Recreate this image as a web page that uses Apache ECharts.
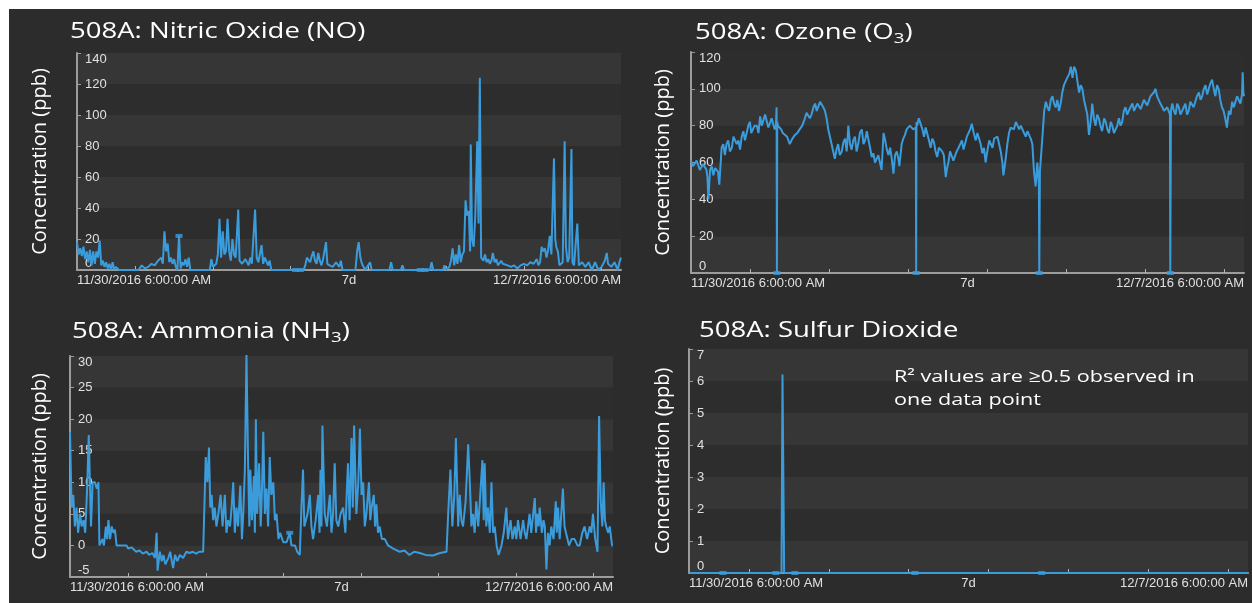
<!DOCTYPE html>
<html>
<head>
<meta charset="utf-8">
<title>508A sensor panels</title>
<script src="https://cdn.jsdelivr.net/npm/echarts@6/dist/echarts.min.js"></script>
<style>
html, body { margin: 0; padding: 0; background: #ffffff; }
#chart { width: 1252px; height: 603px; }
</style>
</head>
<body>
<div id="chart"></div>
<script>
// x values are hours since 11/30/2016 6:00 AM (window is 7 days)
const xTickHours = [18, 42, 66, 90, 114, 138, 162]
const xLabelHours = [0, 84, 168]
const xLabelTexts = ['11/30/2016 6:00:00 AM', '7d', '12/7/2016 6:00:00 AM']

// Nitric oxide (ppb)
const noData = [
  [0, 18], [0.5, 10], [1, 14], [1.5, 9], [2, 15], [2.5, 7], [3, 12], [3.5, 5], [4, 13], [4.5, 3], [5, 12], [5.5, 4],
  [6, 12], [6.5, 8], [7, 19], [7.5, 3], [8, 6], [8.5, 2], [9, 5], [9.5, 1], [10, 4], [10.5, 0], [11, 5], [11.5, 0],
  [12, 2], [13, 0], [19, 0], [20, 3], [21, 1], [22, 2], [23, 4], [24, 3], [25, 6], [26, 8], [26.5, 4], [27, 25],
  [27.5, 12], [28, 17], [28.5, 5], [29, 8], [29.5, 4], [30, 7], [30.5, 2], [31, 0], [31.5, 22], [32, 1], [32.5, 5],
  [33, 3], [33.5, 7], [34, 2], [34.5, 8], [35, 0], [41, 0], [41.5, 7], [42, 2], [43, 4], [43.5, 10], [44, 33],
  [44.5, 8], [45, 25], [45.5, 10], [46, 12], [46.5, 33], [47, 12], [47.5, 6], [48, 20], [48.5, 10], [49, 8],
  [49.8, 39], [50.2, 6], [51, 4], [52, 7], [53, 3], [53.5, 8], [54, 4], [55, 39], [55.5, 8], [56, 5], [57, 16],
  [57.5, 4], [58, 8], [59, 3], [59.5, 6], [60, 0], [70, 0], [70.5, 3], [71, 8], [72, 5], [72.5, 9], [73, 12],
  [73.5, 6], [74, 4], [74.5, 11], [75, 6], [75.5, 3], [76, 7], [76.9, 18], [77.3, 4], [78, 3], [79, 2], [80, 5],
  [81, 2], [81.5, 6], [82, 0], [86, 0], [86.5, 12], [87, 18], [87.5, 8], [88, 4], [89, 0], [90.5, 5], [91, 0],
  [96.5, 0], [97, 5], [97.5, 0], [100, 0], [100.5, 3], [101, 0], [109, 0], [109.5, 5], [110, 0], [113, 0],
  [113.5, 3], [114, 0], [115, 2], [115.5, 6], [116, 14], [116.5, 3], [117, 10], [117.5, 4], [118, 16], [118.5, 5],
  [119, 10], [119.5, 12], [120, 45], [120.5, 35], [121, 38], [121.4, 12], [121.6, 81], [122, 20], [122.5, 15],
  [123, 35], [123.6, 83], [124, 30], [124.4, 124], [124.8, 8], [125.5, 6], [126, 10], [126.5, 5], [127, 7],
  [127.5, 4], [128, 6], [128.4, 11], [129, 5], [129.5, 7], [130, 3], [131, 6], [131.5, 4], [132, 5], [133, 3],
  [134, 2], [135, 3], [136, 1], [137, 3], [138, 4], [139, 3], [140, 5], [141, 4], [142, 7], [142.5, 3], [143, 5],
  [143.5, 15], [144, 12], [144.5, 14], [145, 8], [145.5, 13], [146, 22], [146.5, 10], [147.3, 72], [147.7, 20],
  [148, 15], [148.5, 12], [149, 3], [150, 5], [150.6, 83], [151, 15], [151.5, 5], [152, 8], [152.7, 78], [153, 5],
  [153.5, 3], [154.5, 30], [155, 3], [156, 5], [157, 2], [158, 5], [159, 0], [160, 5], [161, 0], [162, 2], [163, 6],
  [163.6, 11], [164, 4], [165, 2], [166, 5], [167, 0], [167.5, 5], [168, 8]
]
const noMarks = [[31.5, 22], [67.5, 0], [69, 0], [106, 0], [107.5, 0]]

// Ozone (ppb)
const o3Data = [
  [0, 61], [0.6, 58], [1.2, 57], [1.7, 61], [2.2, 60], [2.7, 56], [3.2, 55], [3.7, 59], [4.3, 60], [4.7, 56], [5, 52],
  [5.3, 40], [5.6, 50], [5.8, 56], [6.3, 58], [6.8, 53], [7.3, 57], [7.8, 58], [8.2, 55], [8.6, 48], [9.3, 68],
  [9.8, 70], [10.3, 64], [10.8, 70], [11.3, 72], [11.8, 66], [12.4, 68], [12.9, 74], [13.4, 75], [13.9, 70],
  [14.4, 72], [14.9, 67], [15.4, 74], [15.9, 77], [16.4, 72], [16.9, 73], [17.4, 80], [17.9, 82], [18.3, 76],
  [18.7, 75], [19.3, 80], [20, 80], [20.5, 76], [21, 85], [21.5, 80], [22, 80], [22.5, 86], [23, 85], [23.5, 79],
  [24, 79], [24.5, 84], [25, 83], [25.4, 78], [25.8, 80], [26, 90], [26.1, 0], [26.2, 82], [26.4, 80], [26.9, 80],
  [27.4, 78], [27.9, 76], [28.4, 75], [29.2, 74], [30, 70], [30.8, 73], [31.6, 75], [32.3, 76], [33, 78], [33.8, 80],
  [34.6, 84], [35.1, 87], [35.6, 88], [36.1, 84], [36.6, 86], [37.2, 90], [37.7, 92], [38.2, 88], [38.7, 89],
  [39.2, 93], [39.7, 93], [40.2, 90], [40.7, 88], [41.2, 84], [41.7, 78], [42.2, 74], [42.7, 70], [43.2, 66],
  [43.7, 62], [44.2, 67], [44.7, 70], [45.2, 64], [45.8, 66], [46.3, 71], [46.8, 73], [47.3, 66], [47.8, 80],
  [48.3, 70], [48.8, 67], [49.3, 72], [49.8, 74], [50.3, 66], [50.8, 70], [51.3, 76], [51.9, 78], [52.4, 70],
  [52.9, 72], [53.4, 77], [53.9, 76], [54.4, 68], [54.9, 63], [55.4, 65], [55.9, 60], [56.4, 62], [56.9, 64],
  [57.4, 60], [57.9, 56], [58.5, 76], [59, 72], [59.5, 67], [60, 64], [60.5, 68], [61, 62], [61.5, 54], [62, 64],
  [62.5, 66], [63, 62], [63.3, 58], [64, 70], [64.5, 73], [65, 75], [65.5, 78], [66, 77], [66.5, 80], [67, 81],
  [67.5, 78], [68.3, 79], [68.4, 0], [68.5, 82], [68.7, 80], [69.2, 84], [69.8, 83], [70.3, 78], [70.8, 74],
  [71.3, 79], [71.8, 80], [72.3, 72], [72.8, 68], [73.3, 73], [73.8, 71], [74.3, 66], [74.8, 63], [75.3, 68],
  [75.8, 67], [76.3, 66], [76.8, 64], [77.1, 58], [77.4, 52], [77.8, 57], [78.2, 60], [78.7, 66], [79.2, 65],
  [79.7, 61], [80.2, 62], [80.7, 66], [81.3, 68], [81.8, 70], [82.3, 72], [82.8, 67], [83.3, 68], [83.8, 74],
  [84.3, 76], [84.8, 78], [85.3, 81], [85.9, 76], [86.5, 72], [87, 76], [87.5, 75], [88, 70], [88.5, 65], [89, 68],
  [89.5, 60], [90, 66], [90.6, 72], [91.1, 70], [91.6, 68], [92.1, 73], [92.6, 72], [93.1, 74], [93.6, 70],
  [94.1, 66], [94.6, 60], [94.9, 53], [95.3, 58], [95.6, 62], [96.1, 70], [96.6, 76], [97.1, 79], [97.6, 80],
  [98.1, 78], [98.7, 82], [99.2, 80], [99.7, 78], [100.2, 80], [100.7, 80], [101.2, 76], [101.7, 74], [102.2, 77],
  [102.7, 76], [103.2, 73], [103.7, 70], [104.2, 55], [104.7, 47], [105.2, 60], [105.7, 48], [105.8, 0], [106, 55],
  [106.2, 60], [106.8, 75], [107.3, 88], [107.8, 93], [108.3, 90], [108.8, 88], [109.3, 94], [109.8, 96],
  [110.3, 92], [110.8, 90], [111.3, 94], [111.8, 88], [112.3, 92], [112.8, 98], [113.3, 102], [113.8, 104],
  [114.3, 106], [114.9, 108], [115.4, 112], [115.9, 106], [116.4, 112], [116.9, 110], [117.4, 104], [117.9, 98],
  [118.4, 102], [118.9, 100], [119.4, 94], [119.9, 90], [120.4, 86], [120.9, 75], [121.4, 82], [121.9, 92],
  [122.4, 84], [122.9, 80], [123.4, 86], [123.9, 84], [124.4, 80], [124.9, 77], [125.5, 84], [126, 82], [126.5, 78],
  [127, 76], [127.5, 82], [128, 80], [128.5, 76], [129, 78], [129.5, 80], [130, 84], [130.5, 80], [131, 82],
  [131.5, 88], [132, 90], [132.5, 86], [133, 86], [133.5, 90], [134.1, 92], [134.6, 88], [135.1, 88], [135.6, 92],
  [136.1, 93], [136.6, 89], [137.1, 90], [137.6, 94], [138.1, 95], [138.6, 91], [139.1, 92], [139.6, 96],
  [140.1, 97], [140.6, 98], [141.1, 100], [141.6, 96], [142.1, 94], [142.6, 92], [143.2, 90], [143.7, 88],
  [144.2, 87], [144.7, 90], [145.2, 89], [145.5, 86], [145.6, 0], [145.8, 88], [146.2, 92], [146.7, 88],
  [147.2, 86], [147.7, 92], [148.2, 90], [148.7, 86], [149.2, 86], [149.7, 90], [150.2, 92], [150.7, 86],
  [151.2, 88], [151.7, 93], [152.2, 94], [152.7, 90], [153.2, 90], [153.7, 96], [154.3, 98], [154.8, 94],
  [155.3, 96], [155.8, 100], [156.3, 102], [156.8, 97], [157.3, 98], [157.8, 103], [158.3, 105], [158.8, 100],
  [159.3, 96], [159.8, 102], [160.3, 100], [160.8, 94], [161.3, 90], [161.8, 88], [162.3, 84], [162.8, 79],
  [163.4, 88], [163.9, 86], [164.4, 93], [164.9, 90], [165.4, 90], [165.9, 96], [166.4, 95], [166.9, 92],
  [167.4, 97], [167.6, 109], [167.8, 98], [168, 96]
]
const o3Marks = [[26.1, 0], [68.4, 0], [105.8, 0], [145.6, 0]]

// Ammonia (ppb)
const nh3Data = [
  [0, 18], [0.5, 6], [1, 8], [1.5, 3], [2, 6], [2.5, 2], [3.1, 5], [3.6, 3], [4.2, 4], [4.7, 2], [5.3, 9], [5.8, 17.5],
  [6.5, 3], [7, 10], [7.7, 10], [8.3, 9], [8.8, 10], [9.1, 0], [10, 1], [10.5, 0], [11.1, 3], [11.5, 1], [11.9, 4],
  [12.4, 1], [12.9, 3], [13.4, 2], [13.9, 2.5], [14.4, 0], [17.5, 0], [18, -0.5], [19, -0.3], [19.6, -0.5],
  [20.5, -1], [21.5, -0.8], [22.5, -1.3], [23.7, -1], [24.5, -1.5], [25.5, -1.2], [26.3, -2], [26.8, 2], [27.1, -4],
  [27.8, -1], [28.4, -2.5], [28.9, -1.5], [29.5, -3], [30.4, -2], [31, -1], [31.5, -2.5], [31.9, -3.6], [32.5, -1.5],
  [33.2, -2.5], [34, -1.5], [35, -2], [36, -1], [37, -1.2], [38, -1], [39, -1.3], [40, -1], [41.2, -1], [42, 14],
  [42.5, 10], [43, 15.5], [43.4, 6], [43.8, 8], [44.3, 4], [44.8, 6], [45.3, 3], [45.9, 5], [46.6, 8], [47.2, 3],
  [47.9, 8], [48.4, 2], [48.9, 4], [49.5, 3], [50, 6], [50.5, 10], [51, 2], [51.5, 6], [52, 3], [52.7, 9.5],
  [53.2, 1], [53.6, 5], [54.1, 12], [54.6, 30.5], [55.1, 13], [55.5, 3], [55.8, 12], [56.3, 4], [56.9, 11],
  [57.2, 2], [57.5, 20], [57.9, 5], [58.5, 13], [59, 3], [59.4, 9], [59.8, 18], [60.3, 5], [60.8, 9], [61.3, 3],
  [61.8, 14], [62.3, 8], [62.9, 10], [63.4, 4], [63.9, 5], [64.5, 1], [65, 2], [66, 0.5], [67, 0.5], [68, 2],
  [68.5, 0], [69.6, 0], [70.3, -1], [71.1, -1.5], [71.6, 6], [72.1, 12], [72.5, 3], [72.9, 3], [73.5, 5], [74.2, 8],
  [74.7, 3], [75.2, 1], [76, 4], [76.8, 8], [77.2, 2], [77.5, 12], [77.8, 3], [78.1, 19], [78.8, 5], [79.5, 3],
  [80, 6], [80.4, 8], [80.9, 2], [81.4, 5], [81.9, 13], [82.4, 4], [83, 3], [83.7, 5], [84.5, 6], [85.2, 2],
  [85.6, 8], [86, 13], [86.5, 4], [87.1, 17], [87.5, 6], [87.9, 19], [88.6, 5], [89.2, 10], [89.7, 18.5],
  [90.2, 8], [90.7, 10], [91.2, 3], [91.7, 5], [92.5, 10], [92.9, 4], [93.3, 6], [94, 8], [94.4, 3], [94.8, 6.5],
  [95.3, 2], [95.8, 3], [96.5, 1], [97.4, 1], [98.4, 0], [100, -0.5], [102, -1], [103.5, -0.8], [105, -1.5],
  [106.5, -1], [108.2, -1.2], [110, -1.5], [112.3, -1.6], [114.5, -1.2], [116.5, -1], [117, 5], [117.7, 12],
  [118.3, 3], [118.9, 8], [119.4, 17], [120.1, 3], [120.6, 8], [121.1, 4], [121.6, 3], [122.4, 7], [123.2, 16],
  [123.7, 10], [124.2, 3], [124.7, 5], [125.2, 2], [125.7, 7], [126.3, 3], [126.8, 7], [127.6, 13.5], [128, 4],
  [128.3, 13], [128.8, 3], [129.3, 6], [129.9, 2], [130.4, 10], [130.9, 2], [131.4, 3], [132, 0], [132.6, -1.5],
  [133.5, 0], [134.2, 2], [135, 6], [135.5, 1], [136.3, 4], [136.9, 1], [137.6, 3], [138.1, 1], [138.6, 4],
  [139.4, 1], [140.2, 4], [140.7, 2], [141.2, 1], [142.2, 5], [142.7, 2], [143.3, 2], [143.8, 7.5], [144.2, 2],
  [144.5, 5], [145, 3], [145.3, 6], [146, 2], [146.5, 4], [146.9, 3], [147.4, -3.8], [147.9, 2], [148.4, 0],
  [148.9, 3], [149.6, 1], [150.3, 7], [150.6, 2], [151, 6], [151.5, 1], [152, 5], [152.5, 9], [153, 3], [153.6, 3],
  [154.4, 0], [155.2, 1], [156.1, 1], [157, 0], [157.7, 0], [158.5, 2], [159.2, 3], [160, 1], [160.8, 3], [161.3, 2],
  [161.8, 5], [162.5, 1], [163.2, -1], [163.7, 20.5], [164.2, 7], [164.7, 3], [165.1, 10], [165.5, 4], [165.9, 3],
  [166.5, 2], [167, 3], [167.7, 0], [168, 0]
]
const nh3Marks = [[68, 2]]

// Sulfur dioxide (ppb)
const so2Data = [[0, 0], [10.2, 0], [26.1, 0], [27.8, 0], [28.1, 6.2], [28.6, 0], [31.8, 0], [67.9, 0], [106, 0], [168, 0]]
const so2Marks = [[10.2, 0], [26.1, 0], [31.8, 0], [67.9, 0], [106, 0]]

const lineColor = '#3b9cdc'
const axisColor = '#9c9c9c'
const labelColor = '#e0e0e0'

const panels = [
  { left: 77, top: 53, width: 544, height: 217, min: 0, max: 140, step: 20, gap: 27, data: noData, marks: noMarks },
  { left: 691, top: 52, width: 553, height: 221, min: 0, max: 120, step: 20, gap: 18, data: o3Data, marks: o3Marks },
  { left: 70, top: 356, width: 543, height: 221, min: -5, max: 30, step: 5, gap: 20, data: nh3Data, marks: nh3Marks },
  { left: 689, top: 349, width: 559, height: 224, min: 0, max: 7, step: 1, gap: 16, data: so2Data, marks: so2Marks }
]

const chart = echarts.init(document.getElementById('chart'))

const grid = panels.map(p => ({ left: p.left, top: p.top, width: p.width, height: p.height }))

const xAxis = panels.map((p, i) => ({
  type: 'value',
  gridIndex: i,
  min: 0,
  max: 168,
  axisLine: { onZero: false, lineStyle: { color: axisColor, width: 2 } },
  axisTick: { show: true, inside: true, length: 4, customValues: xTickHours, lineStyle: { color: '#b5b5b5' } },
  axisLabel: {
    customValues: xLabelHours,
    formatter: v => xLabelTexts[xLabelHours.indexOf(v)],
    color: labelColor,
    fontFamily: 'Liberation Sans',
    fontSize: 13,
    margin: 4,
    alignMinLabel: 'left',
    alignMaxLabel: 'right'
  },
  splitLine: { show: false }
}))

const yAxis = panels.map((p, i) => ({
  type: 'value',
  gridIndex: i,
  min: p.min,
  max: p.max,
  interval: p.step,
  name: 'Concentration (ppb)',
  nameLocation: 'middle',
  nameRotate: 90,
  nameGap: p.gap,
  nameTextStyle: { color: '#ffffff', fontFamily: 'Open Sans', fontSize: 20 },
  axisLine: { show: true, lineStyle: { color: axisColor, width: 2 } },
  axisTick: { show: true, inside: true, length: 4, lineStyle: { color: axisColor } },
  axisLabel: {
    inside: true,
    margin: 8,
    color: labelColor,
    fontFamily: 'Liberation Sans',
    fontSize: 13,
    verticalAlignMinLabel: 'bottom',
    verticalAlignMaxLabel: 'top'
  },
  splitLine: { show: false },
  splitArea: { show: true, areaStyle: { color: ['#363636', '#2d2d2d'] } }
}))

const series = []
panels.forEach((p, i) => {
  series.push({
    type: 'line',
    xAxisIndex: i,
    yAxisIndex: i,
    data: p.data,
    showSymbol: false,
    symbol: 'none',
    lineStyle: { color: lineColor, width: 2 },
    itemStyle: { color: lineColor }
  })
  series.push({
    type: 'scatter',
    xAxisIndex: i,
    yAxisIndex: i,
    data: p.marks,
    symbol: 'rect',
    symbolSize: [7, 4],
    itemStyle: { color: lineColor }
  })
})

const subStyle = { fontFamily: 'Open Sans', fontSize: 15, verticalAlign: 'bottom', lineHeight: 15 }

function titleText (x, y, text) {
  return {
    type: 'text',
    x: x,
    y: y,
    z: 100,
    scaleX: 1.25,
    style: {
      text: text,
      fill: '#ffffff',
      fontFamily: 'Open Sans',
      fontSize: 22,
      lineHeight: 26,
      verticalAlign: 'middle',
      rich: {
        sub: subStyle
      }
    }
  }
}

chart.setOption({
  animation: false,
  backgroundColor: '#2c2c2c',
  grid: grid,
  xAxis: xAxis,
  yAxis: yAxis,
  series: series,
  graphic: [
    // white margins of the screenshot
    { type: 'rect', z: 100, shape: { x: 0, y: 0, width: 1252, height: 9 }, style: { fill: '#ffffff' } },
    { type: 'rect', z: 100, shape: { x: 0, y: 0, width: 9, height: 603 }, style: { fill: '#ffffff' } },
    titleText(70, 32, '508A: Nitric Oxide (NO)'),
    titleText(695, 33, '508A: Ozone (O{sub|3})'),
    titleText(72, 332, '508A: Ammonia (NH{sub|3})'),
    titleText(699, 331, '508A: Sulfur Dioxide'),
    {
      type: 'text',
      x: 894,
      y: 366,
      z: 100,
      scaleX: 1.27,
      style: {
        text: 'R² values are ≥0.5 observed in\none data point',
        fill: '#ffffff',
        fontFamily: 'Open Sans',
        fontSize: 17,
        lineHeight: 23
      }
    }
  ]
})

window.onresize = function () {
  chart.resize()
}
</script>
</body>
</html>
